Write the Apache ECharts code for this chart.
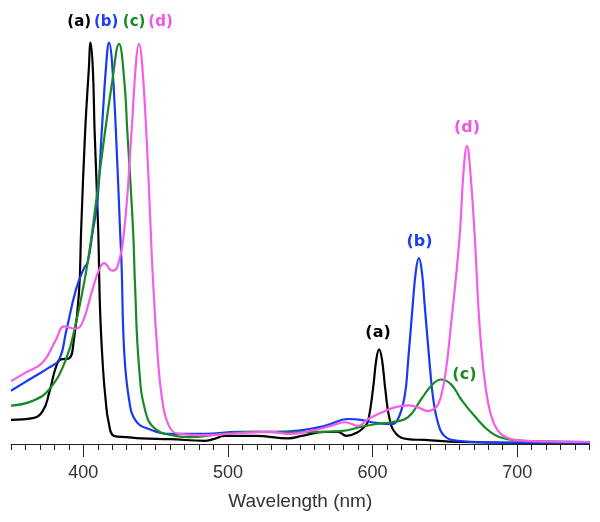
<!DOCTYPE html>
<html>
<head>
<meta charset="utf-8">
<script src="https://cdn.jsdelivr.net/npm/echarts@6/dist/echarts.min.js"></script>
<style>
html,body{margin:0;padding:0;background:#fff;}
#chart{width:600px;height:522px;}
</style>
</head>
<body>
<div id="chart"></div>
<script>
// Spectra: [wavelength (nm), normalized absorbance]
const curveA = [[350,0.060],[365,0.064],[372,0.082],[376.5,0.128],[381,0.190],[384.5,0.210],[390,0.212],[393.5,0.259],[397,0.375],[398.5,0.531],[401.3,0.778],[403.8,0.93],[405,0.996],[406.6,0.93],[407.8,0.778],[410.3,0.531],[411.6,0.331],[413.7,0.183],[415.4,0.111],[417.5,0.054],[421.3,0.020],[430,0.017],[440,0.014],[460,0.012],[484,0.008],[490,0.012],[498,0.020],[519,0.020],[542,0.014],[551,0.020],[567,0.030],[576,0.030],[582,0.020],[590,0.030],[595,0.045],[597,0.058],[600.3,0.136],[602.6,0.210],[604.5,0.235],[606.5,0.210],[608.8,0.136],[611.8,0.062],[616.4,0.025],[624.4,0.012],[636,0.010],[660,0.005],[700,0.003],[750,0.003]];
const curveB = [[350,0.132],[362.7,0.160],[376.5,0.190],[383.4,0.210],[388,0.277],[394.9,0.383],[400.6,0.437],[402.9,0.449],[406.3,0.523],[409.8,0.605],[412.8,0.778],[416,0.95],[417.8,0.996],[419.8,0.95],[422.5,0.778],[425.4,0.531],[426.5,0.44],[428.2,0.235],[431.6,0.111],[436.2,0.058],[445.4,0.037],[461.2,0.025],[484.4,0.025],[507.4,0.030],[530,0.030],[548.7,0.033],[567,0.045],[583.3,0.062],[592,0.060],[599.4,0.054],[613,0.049],[617.6,0.062],[622.2,0.119],[624.5,0.202],[627.9,0.351],[630,0.43],[632,0.461],[634,0.43],[635.9,0.351],[639.4,0.202],[641.7,0.119],[645.1,0.054],[649.7,0.020],[658.9,0.008],[680,0.004],[750,0.003]];
const curveC = [[350,0.095],[365,0.107],[376.5,0.136],[388,0.210],[394.9,0.301],[401.8,0.425],[406.3,0.531],[413,0.72],[420,0.90],[424.7,0.993],[428.3,0.903],[430.4,0.778],[434.4,0.531],[435.7,0.400],[438.5,0.193],[443.1,0.079],[450,0.037],[463.8,0.020],[472.9,0.017],[495.7,0.025],[518.9,0.030],[541.8,0.029],[564.6,0.030],[580.9,0.033],[590,0.041],[601.5,0.049],[612.9,0.054],[624.4,0.066],[633.6,0.111],[640.5,0.144],[647.4,0.160],[654.3,0.148],[661.2,0.111],[670.4,0.070],[681.8,0.029],[693.3,0.012],[704.8,0.008],[750,0.005]];
const curveD = [[350,0.156],[360.5,0.178],[371.9,0.202],[381.1,0.259],[386.8,0.292],[394.9,0.286],[399.4,0.301],[406.3,0.383],[410.9,0.432],[414.4,0.449],[420.1,0.430],[423.6,0.440],[428.3,0.531],[433.4,0.778],[436.5,0.95],[438.5,0.993],[440.5,0.95],[443.5,0.778],[446.6,0.531],[447.7,0.44],[451.1,0.235],[454.5,0.111],[459.2,0.045],[466,0.025],[484.4,0.022],[507.4,0.027],[530,0.030],[541.8,0.025],[557.6,0.033],[571.4,0.045],[580.9,0.054],[590,0.045],[596.9,0.062],[606.1,0.078],[615.3,0.091],[624.4,0.096],[631.3,0.091],[638.2,0.082],[643.9,0.091],[647.4,0.119],[650.8,0.185],[653.9,0.284],[660,0.506],[663,0.68],[665.3,0.739],[667.5,0.68],[670.8,0.506],[673.5,0.32],[676.5,0.19],[680,0.10],[684,0.05],[688.7,0.025],[695.6,0.012],[704.8,0.008],[750,0.005]];

const seriesNames = ['(a)','(b)','(c)','(d)'];
const labelText = ['(a)','(b)','(c)','(d)','(a)','(b)','(c)','(d)'];
const labelX = [397.2,415.8,435.1,453.4,603.8,632.5,663.5,665.3];
const labelY = [1.048,1.048,1.048,1.048,0.275,0.502,0.171,0.784];
const xTickLabels = [400,500,600,700];
const xMin = 350, xMax = 750, minorStep = 10;

const lineColors = {'(a)':'#000000','(b)':'#1a3af2','(c)':'#178a26','(d)':'#f45ee6'};
const textColors = {'(a)':'#000000','(b)':'#1d3ff0','(c)':'#178c24','(d)':'#f255e4'};
const curves = [curveA, curveB, curveC, curveD];

const chart = echarts.init(document.getElementById('chart'), null, {renderer:'canvas'});
const lineSeries = curves.map((d,i)=>({
  type:'line', name:seriesNames[i], data:d, xAxisIndex:0, yAxisIndex:0,
  showSymbol:false, smooth:0.45,
  lineStyle:{color:lineColors[seriesNames[i]], width:2.2},
  itemStyle:{color:lineColors[seriesNames[i]]},
  z:2+i
}));
const labelSeries = {
  type:'scatter', clip:false, symbolSize:1, silent:true, z:10,
  itemStyle:{opacity:0},
  data: labelText.map((t,i)=>({
    value:[labelX[i], labelY[i], t],
    label:{show:true, position:'inside', formatter:t, color:textColors[t], opacity:1,
      textBorderWidth:0, fontFamily:'DejaVu Sans', fontWeight:'bold', fontSize: i < 4 ? 15 : 16}
  }))
};

chart.setOption({
  animation:false,
  backgroundColor:'#ffffff',
  grid:{left:11, right:10.5, top:41, bottom:78},
  xAxis:[{
    type:'value', min:xMin, max:xMax,
    axisLine:{show:true, onZero:false, lineStyle:{color:'#222', width:1}},
    axisTick:{show:true, length:13, customValues:xTickLabels, lineStyle:{color:'#222', width:1}},
    axisLabel:{show:true, customValues:xTickLabels, fontSize:18, color:'#333', margin:20, fontFamily:'Liberation Sans'},
    splitLine:{show:false},
    name:'Wavelength (nm)', nameLocation:'middle', nameGap:48,
    nameTextStyle:{fontSize:19, color:'#333', fontFamily:'Liberation Sans'}
  },{
    type:'value', min:xMin, max:xMax, interval:minorStep, position:'bottom',
    axisLine:{show:false},
    axisTick:{show:true, length:6, lineStyle:{color:'#222', width:1}},
    axisLabel:{show:false}, splitLine:{show:false}
  }],
  yAxis:{type:'value', min:0, max:1, show:false, splitLine:{show:false}},
  series:[...lineSeries, labelSeries]
});
</script>
</body>
</html>
